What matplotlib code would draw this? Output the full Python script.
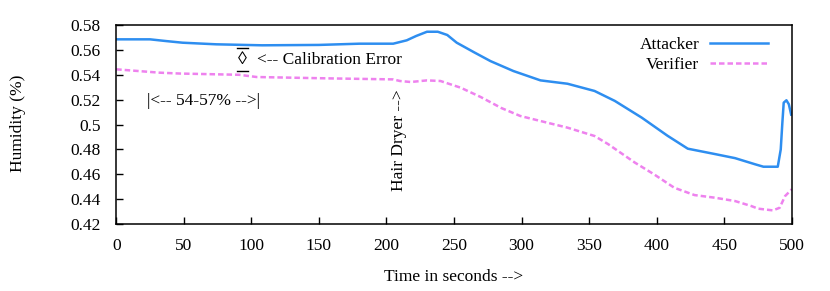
import matplotlib.pyplot as plt
import matplotlib.lines as mlines

plt.rcParams['font.family'] = ['Liberation Serif', 'DejaVu Serif']

# values
att_t = [0, 25, 37, 49, 74, 108, 150, 180, 205, 215, 222, 230, 238, 245, 252,
         265, 277, 294, 314, 334, 354, 369, 389, 408, 423, 443, 458, 473,
         479, 489.6, 491.8, 493, 494, 496, 497.8, 499.5]
att_h = [0.5685, 0.5685, 0.5671, 0.5658, 0.5645, 0.5637, 0.5640, 0.5650,
         0.5650, 0.5677, 0.5712, 0.5746, 0.5746, 0.5720, 0.5658, 0.5580,
         0.5510, 0.5430, 0.5355, 0.5328, 0.5270, 0.5190, 0.5055, 0.4910,
         0.4806, 0.4763, 0.4730, 0.4680, 0.4661, 0.4661, 0.4800, 0.5015,
         0.5176, 0.5195, 0.5163, 0.5080]

ver_t = [0, 32, 47, 91, 104, 158, 205, 210, 218, 230, 240, 255, 270, 285,
         299, 319, 334, 354, 364, 384, 398, 413, 428, 443, 458, 470, 475,
         486, 491, 495, 500]
ver_h = [0.5444, 0.5417, 0.5410, 0.5400, 0.5382, 0.5371, 0.5363, 0.5350,
         0.5342, 0.5355, 0.5350, 0.5296, 0.5220, 0.5133, 0.5069, 0.5015,
         0.4975, 0.4908, 0.4843, 0.4693, 0.4600, 0.4492, 0.4433, 0.4412,
         0.4385, 0.4345, 0.4324, 0.4310, 0.4331, 0.4425, 0.4480]

x_ticks = list(range(0, 501, 50))
y_ticks = [0.42, 0.44, 0.46, 0.48, 0.5, 0.52, 0.54, 0.56, 0.58]
y_labels = ['0.42', '0.44', '0.46', '0.48', '0.5', '0.52', '0.54', '0.56', '0.58']

FS = 12.5

fig = plt.figure(figsize=(8.3, 2.91), dpi=100)
ax = fig.add_axes([0.140, 0.230, 0.814, 0.684])

ax.plot(att_t, att_h, color='#2e8ef0', linewidth=1.8, label='Attacker')
ax.plot(ver_t, ver_h, color='#ee82ee', linewidth=1.8, linestyle=(0, (2.2, 1.2)),
        label='Verifier')

ax.set_xlim(0, 500)
ax.set_ylim(0.42, 0.58)
ax.set_xticks(x_ticks)
ax.set_yticks(y_ticks)
ax.set_yticklabels(y_labels)
ax.tick_params(direction='in', length=5, width=1, labelsize=FS)
ax.tick_params(axis='x', pad=10)
ax.tick_params(axis='y', pad=11)
for s in ax.spines.values():
    s.set_linewidth(1.1)

fig.text(454 / 830, 1 - 277 / 291, 'Time in seconds -->', fontsize=FS,
         ha='center', va='center')
fig.text(18 / 830, 1 - 123 / 291, 'Humidity (%)', fontsize=FS,
         ha='center', va='center', rotation=90)

# annotations
ax.text(93.6, 0.5525, '\u25ca', fontsize=13, ha='center', va='center')
for yb in (0.5618, 0.5432):
    ax.add_line(mlines.Line2D([89.5, 97.5], [yb, yb], color='black', linewidth=1))
ax.text(104, 0.5519, '<-- Calibration Error', fontsize=FS, ha='left', va='center')
ax.text(64.5, 0.519, '|<-- 54-57% -->|', fontsize=FS, ha='center', va='center')
ax.text(209.5, 0.4876, 'Hair Dryer -->', fontsize=FS, ha='center', va='center',
        rotation=90)

ax.legend(loc='upper right', bbox_to_anchor=(0.972, 0.968), frameon=False,
          markerfirst=False, fontsize=FS, handlelength=3.3, handletextpad=0.65,
          labelspacing=0.22, borderaxespad=0, borderpad=0.3)

fig.savefig('out.png', dpi=100)
